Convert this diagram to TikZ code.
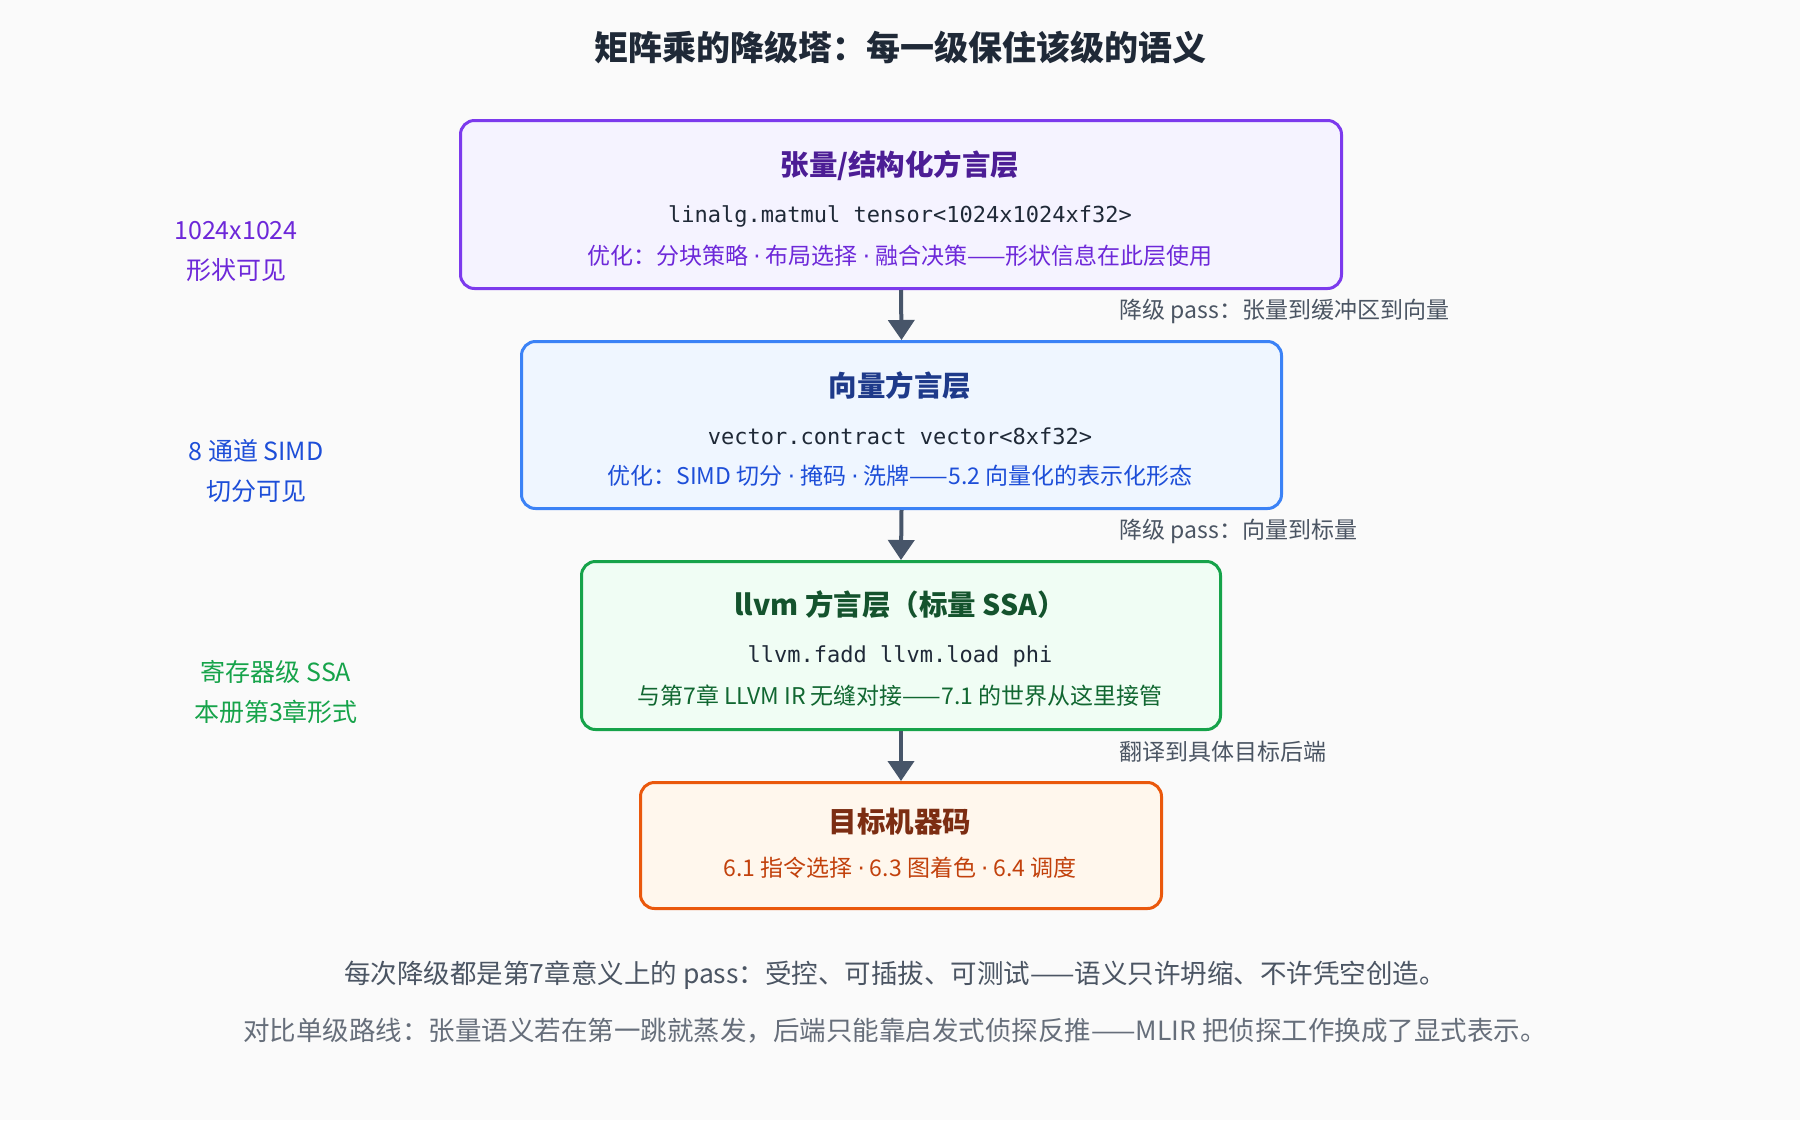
\documentclass[tikz,border=0pt]{standalone}
\usepackage{fontspec}
\setmainfont{Noto Sans CJK SC}
\newfontfamily\codefont{DejaVu Sans Mono}
\newfontfamily\dotfont{DejaVu Sans}
\newcommand{\md}{{\dotfont ·}}
\usetikzlibrary{arrows.meta}
\definecolor{bg}{HTML}{FAFAFA}
\definecolor{pB}{HTML}{7C3AED}\definecolor{pF}{HTML}{F5F3FF}\definecolor{pT}{HTML}{4C1D95}\definecolor{pX}{HTML}{6D28D9}
\definecolor{bB}{HTML}{3B82F6}\definecolor{bF}{HTML}{EFF6FF}\definecolor{bT}{HTML}{1E3A8A}\definecolor{bX}{HTML}{1D4ED8}
\definecolor{gB}{HTML}{16A34A}\definecolor{gF}{HTML}{F0FDF4}\definecolor{gT}{HTML}{14532D}\definecolor{gX}{HTML}{15803D}
\definecolor{oB}{HTML}{EA580C}\definecolor{oF}{HTML}{FFF7ED}\definecolor{oT}{HTML}{7C2D12}\definecolor{oX}{HTML}{C2410C}
\definecolor{ar}{HTML}{475569}\definecolor{tx}{HTML}{1F2937}\definecolor{gr}{HTML}{4B5563}
\tikzset{
 box/.style={draw, line width=3pt, rounded corners=14pt, anchor=north west},
 ttl/.style={font=\fontsize{28.5}{34}\selectfont\bfseries},
 body/.style={font=\fontsize{23}{28}\selectfont},
 code/.style={font=\codefont\fontsize{22}{26}\selectfont, text=tx},
 side/.style={font=\fontsize{25}{40}\selectfont, align=center},
 pass/.style={font=\fontsize{23}{28}\selectfont, text=gr, anchor=west},
 arr/.style={ar, line width=4pt, -{Triangle[length=20pt,width=26pt]}},
}
\begin{document}
\begin{tikzpicture}[x=1pt,y=-1pt]
\fill[bg] (0,0) rectangle (1800,1120);
\useasboundingbox (0,0) rectangle (1800,1120);
\node[font=\fontsize{34}{40}\selectfont\bfseries, text=tx] (title) at (900,48) {矩阵乘的降级塔：每一级保住该级的语义};
% boxes
\node[box, draw=pB, fill=pF, minimum width=881pt, minimum height=168pt] (b1) at (459,119) {};
\node[box, draw=bB, fill=bF, minimum width=760pt, minimum height=167pt] (b2) at (520,340) {};
\node[box, draw=gB, fill=gF, minimum width=639pt, minimum height=168pt] (b3) at (580,560) {};
\node[box, draw=oB, fill=oF, minimum width=521pt, minimum height=126pt] (b4) at (639,781) {};
\node[ttl, text=pT] (t1) at (900,166) {张量/结构化方言层};
\node[code] (c1) at (900,216) {linalg.matmul tensor<1024x1024xf32>};
\node[body, text=pX] (o1) at (900,256) {优化：分块策略 \md{} 布局选择 \md{} 融合决策——形状信息在此层使用};
\node[ttl, text=bT] (t2) at (900,386) {向量方言层};
\node[code] (c2) at (900,436) {vector.contract vector<8xf32>};
\node[body, text=bX] (o2) at (900,476) {优化：SIMD 切分 \md{} 掩码 \md{} 洗牌——5.2 向量化的表示化形态};
\node[ttl, text=gT] (t3) at (900,605) {llvm 方言层（标量 SSA）};
\node[code] (c3) at (900,656) {llvm.fadd llvm.load phi};
\node[body, text=gX!80!black] (o3) at (900,696) {与第7章 LLVM IR 无缝对接——7.1 的世界从这里接管};
\node[ttl, text=oT] (t4) at (900,822) {目标机器码};
\node[body, text=oX] (o4) at (900,868) {6.1 指令选择 \md{} 6.3 图着色 \md{} 6.4 调度};
% arrows
\draw[arr] (b1.south) -- (b2.north);
\draw[arr] (b2.south) -- (b3.north);
\draw[arr] (b3.south) -- (b4.north);
\node[pass] (p1) at (1116,311) {降级 pass：张量到缓冲区到向量};
\node[pass] (p2) at (1116,531) {降级 pass：向量到标量};
\node[pass] (p3) at (1116,752) {翻译到具体目标后端};
% side labels
\node[side, text=pX] (s1) at (236,251) {1024x1024\\形状可见};
\node[side, text=bX] (s2) at (256,471) {8 通道 SIMD\\切分可见};
\node[side, text=gB] (s3) at (276,692) {寄存器级 SSA\\本册第3章形式};
% footer
\node[font=\fontsize{26.5}{32}\selectfont, text=gr] (f1) at (895,975) {每次降级都是第7章意义上的 pass：受控、可插拔、可测试——语义只许坍缩、不许凭空创造。};
\node[font=\fontsize{26.5}{32}\selectfont, text=gr!85] (f2) at (895,1031) {对比单级路线：张量语义若在第一跳就蒸发，后端只能靠启发式侦探反推——MLIR 把侦探工作换成了显式表示。};
\end{tikzpicture}
\end{document}
